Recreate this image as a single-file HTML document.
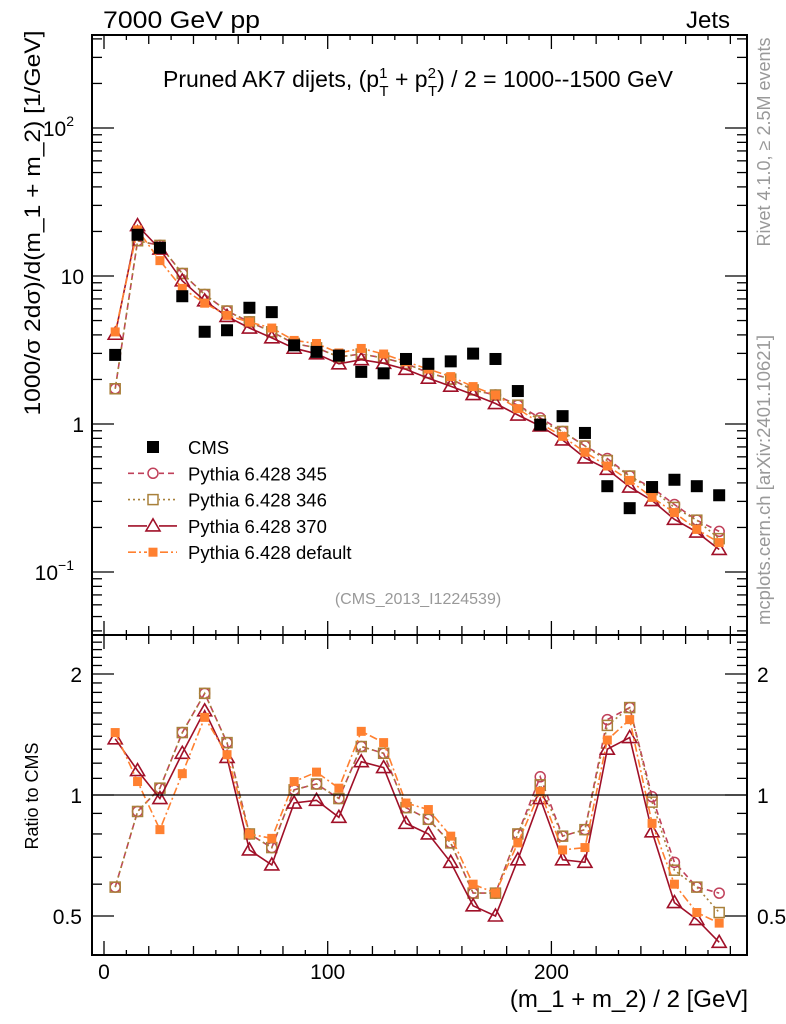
<!DOCTYPE html>
<html><head><meta charset="utf-8"><style>
html,body{margin:0;padding:0;background:#fff;}
svg{display:block;font-family:"Liberation Sans",sans-serif;}
</style></head><body>
<svg id="chart" width="786" height="1024" viewBox="0 0 786 1024" xmlns="http://www.w3.org/2000/svg">
<g id="marks"></g>
<g id="axes"></g>
<text x="103" y="28" font-size="24" textLength="157" lengthAdjust="spacingAndGlyphs">7000 GeV pp</text>
<text x="730" y="28" font-size="24" text-anchor="end">Jets</text>
<text x="418" y="87" font-size="23" text-anchor="middle">Pruned AK7 dijets, (p<tspan font-size="15" dy="-9">1</tspan><tspan font-size="15" dx="-8" dy="18">T</tspan><tspan dy="-9"> + p</tspan><tspan font-size="15" dy="-9">2</tspan><tspan font-size="15" dx="-8" dy="18">T</tspan><tspan dy="-9">) / 2 = 1000--1500 GeV</tspan></text>
<text x="418" y="604" font-size="16" fill="#999" text-anchor="middle">(CMS_2013_I1224539)</text>
<text transform="translate(40,223) rotate(-90)" font-size="22" text-anchor="middle" textLength="385" lengthAdjust="spacingAndGlyphs">1000/σ   2dσ)/d(m_1 + m_2) [1/GeV]</text>
<text transform="translate(38,796) rotate(-90)" font-size="18" text-anchor="middle">Ratio to CMS</text>
<text x="748" y="1007" font-size="24" text-anchor="end">(m_1 + m_2) / 2 [GeV]</text>
<text transform="translate(770,142) rotate(-90)" font-size="18" fill="#999" text-anchor="middle">Rivet 4.1.0, ≥ 2.5M events</text>
<text transform="translate(770,480) rotate(-90)" font-size="18.5" fill="#999" text-anchor="middle">mcplots.cern.ch [arXiv:2401.10621]</text>
<g id="legend"></g>
</svg>
<script>
const bins = [5,15,25,35,45,55,65,75,85,95,105,115,125,135,145,155,165,175,185,195,205,215,225,235,245,255,265,275];
const cms = [2.93,19,15.5,7.3,4.2,4.3,6.1,5.7,3.4,3.07,2.9,2.25,2.2,2.75,2.55,2.65,2.99,2.75,1.67,0.99,1.13,0.87,0.38,0.27,0.375,0.42,0.38,0.33];
const p345 = [1.73,17.3,16.1,10.4,7.5,5.8,4.9,4.2,3.5,3.27,2.84,2.97,2.79,2.56,2.22,2.01,1.70,1.57,1.34,1.10,0.89,0.71,0.585,0.445,0.371,0.286,0.224,0.188];
const p346 = [1.73,17.3,16.1,10.4,7.5,5.8,4.9,4.2,3.5,3.27,2.84,2.97,2.79,2.56,2.22,2.01,1.70,1.57,1.34,1.05,0.89,0.71,0.566,0.445,0.36,0.273,0.224,0.168];
const p370 = [4.04,21.9,15.2,9.27,6.8,5.33,4.45,3.82,3.25,2.98,2.55,2.72,2.57,2.34,2.04,1.80,1.58,1.375,1.15,0.97,0.78,0.59,0.494,0.375,0.304,0.227,0.186,0.142];
const pdef = [4.19,20.5,12.7,8.25,6.55,5.42,4.88,4.45,3.67,3.5,3.02,3.24,2.97,2.63,2.35,2.09,1.79,1.57,1.27,1.01,0.825,0.644,0.52,0.416,0.319,0.252,0.194,0.158];
const r345 = [0.59,0.91,1.04,1.43,1.79,1.35,0.80,0.74,1.03,1.065,0.98,1.32,1.27,0.93,0.87,0.76,0.57,0.57,0.80,1.11,0.79,0.82,1.54,1.65,0.99,0.68,0.59,0.57];
const r346 = [0.59,0.91,1.04,1.43,1.79,1.35,0.80,0.74,1.03,1.065,0.98,1.32,1.27,0.93,0.87,0.76,0.57,0.57,0.80,1.06,0.79,0.82,1.49,1.65,0.96,0.65,0.59,0.51];
const r370 = [1.38,1.15,0.98,1.27,1.62,1.24,0.73,0.67,0.955,0.97,0.88,1.21,1.17,0.85,0.80,0.68,0.53,0.50,0.69,0.98,0.69,0.68,1.30,1.39,0.81,0.54,0.49,0.43];
const rdef = [1.43,1.08,0.82,1.13,1.56,1.26,0.80,0.78,1.08,1.14,1.04,1.44,1.35,0.955,0.92,0.79,0.60,0.57,0.76,1.02,0.73,0.74,1.37,1.54,0.85,0.60,0.51,0.48];
const xTicks = [0,100,200];
const mainTicks = [{v:100,t:"10",s:"2"},{v:10,t:"10",s:""},{v:1,t:"1",s:""},{v:0.1,t:"10",s:"−1"}];
const ratioTicks = [{v:2,t:"2"},{v:1,t:"1"},{v:0.5,t:"0.5"}];

const L=92,R=747,T=35,M=635,B=955;
const X=v=>104+v*2.237;
const Y=v=>424-148*Math.log10(v);
const YR=v=>795-121*Math.log2(v);
const NS="http://www.w3.org/2000/svg";
const marks=document.getElementById('marks'), axes=document.getElementById('axes'), leg=document.getElementById('legend');
function mk(tag,attrs,parent){const e=document.createElementNS(NS,tag);for(const k in attrs)e.setAttribute(k,attrs[k]);parent.appendChild(e);return e;}

const series=[
 {name:'pythia-345',main:p345,ratio:r345,color:'#c0405a',dash:'6,4',marker:'circle'},
 {name:'pythia-346',main:p346,ratio:r346,color:'#a8803a',dash:'2,3',marker:'square'},
 {name:'pythia-370',main:p370,ratio:r370,color:'#a01028',dash:'',marker:'triangle'},
 {name:'pythia-default',main:pdef,ratio:rdef,color:'#ff8030',dash:'8,3,2,3',marker:'fsquare'}
];
function marker(type,x,y,color,g){
  if(type==='circle') return mk('circle',{cx:x,cy:y,r:5,fill:'none',stroke:color,'stroke-width':1.5},g);
  if(type==='square') return mk('rect',{x:x-5,y:y-5,width:10,height:10,fill:'none',stroke:color,'stroke-width':1.5},g);
  if(type==='triangle') return mk('path',{d:`M${x},${y-7}L${x+7},${y+5}L${x-7},${y+5}Z`,fill:'none',stroke:color,'stroke-width':1.6},g);
  if(type==='fsquare') return mk('rect',{x:x-4.5,y:y-4.5,width:9,height:9,fill:color},g);
  return mk('rect',{x:x-6,y:y-6,width:12,height:12,fill:'#000'},g);
}
series.forEach(s=>{
  [[s.main,Y,'main'],[s.ratio,YR,'ratio']].forEach(([arr,yf,pn])=>{
    const g=mk('g',{},marks);
    
    
    const pts=arr.map((v,i)=>X(bins[i]).toFixed(1)+','+yf(v).toFixed(1)).join(' ');
    const line=mk('polyline',{points:pts,fill:'none',stroke:s.color,'stroke-width':1.6,'stroke-dasharray':s.dash},g);
    
    
    arr.forEach((v,i)=>{
      const m=marker(s.marker,X(bins[i]),yf(v),s.color,g);
      
      
    });
  });
});
cms.forEach((v,i)=>{
  const m=marker('cms',X(bins[i]),Y(v),'#000',marks);
  
  
});
const one=mk('line',{x1:L,x2:R,y1:YR(1),y2:YR(1),stroke:'#000','stroke-width':1.3},marks);



[[T,M],[M,B]].forEach(([a,b],k)=>{
  const f=mk('rect',{x:L,y:a,width:R-L,height:b-a,fill:'none',stroke:'#000','stroke-width':2},axes);
  
  
  for(let v=0;v<=300;v+=10){
    const x=X(v); if(x>R) break;
    const len=v%100===0?14:(v%20===0?9:5);
    mk('line',{x1:x,x2:x,y1:b,y2:b-len,stroke:'#000','stroke-width':1.3},axes);
    mk('line',{x1:x,x2:x,y1:a,y2:a+len,stroke:'#000','stroke-width':1.3},axes);
  }
});
for(let e=-2;e<=2;e++){for(let m=1;m<10;m++){
  const v=m*Math.pow(10,e),y=Y(v); if(y<T||y>M) continue;
  const len=m===1?22:10;
  mk('line',{x1:L,x2:L+len,y1:y,y2:y,stroke:'#000','stroke-width':1.3},axes);
  mk('line',{x1:R,x2:R-len,y1:y,y2:y,stroke:'#000','stroke-width':1.3},axes);
}}
mainTicks.forEach(t=>{
  const tx=mk('text',{x:t.s?74:84,y:Y(t.v)+8,'font-size':21,'text-anchor':'end'},axes);
  
  
  tx.textContent=t.t;
  if(t.s){const sp=mk('tspan',{'font-size':14,dy:-10},tx);sp.textContent=t.s;}
});
for(let v=0.4;v<=2.5;v+=0.1){
  const y=YR(v); if(y<M||y>B) continue;
  const major=Math.abs(v-0.5)<1e-6||Math.abs(v-1)<1e-6||Math.abs(v-2)<1e-6;
  const len=major?22:10;
  mk('line',{x1:L,x2:L+len,y1:y,y2:y,stroke:'#000','stroke-width':1.3},axes);
  mk('line',{x1:R,x2:R-len,y1:y,y2:y,stroke:'#000','stroke-width':1.3},axes);
}
ratioTicks.forEach(t=>{
  const a=mk('text',{x:82,y:YR(t.v)+8,'font-size':21,'text-anchor':'end'},axes);
  
  
  a.textContent=t.t;
  const b=mk('text',{x:757,y:YR(t.v)+8,'font-size':21},axes);
  
  
  b.textContent=t.t;
});
xTicks.forEach(v=>{
  const t=mk('text',{x:X(v),y:979,'font-size':21,'text-anchor':'middle'},axes);
  
  
  t.textContent=v;
});
const legItems=[{label:'CMS',s:null},{label:'Pythia 6.428 345',s:series[0]},{label:'Pythia 6.428 346',s:series[1]},{label:'Pythia 6.428 370',s:series[2]},{label:'Pythia 6.428 default',s:series[3]}];
legItems.forEach((it,i)=>{
  const y=447+i*26.3;
  const g=mk('g',{},leg);
  
  
  if(it.s){
    mk('line',{x1:128,x2:177,y1:y,y2:y,stroke:it.s.color,'stroke-width':1.6,'stroke-dasharray':it.s.dash},g);
    mk('rect',{x:147,y:y-6,width:12,height:12,fill:'#fff'},g);
    marker(it.s.marker,153,y,it.s.color,g);
  } else marker('cms',153,y,'#000',g);
  const t=mk('text',{x:188,y:y+7,'font-size':18.5},g);
  t.textContent=it.label;
});
</script>
</body></html>
